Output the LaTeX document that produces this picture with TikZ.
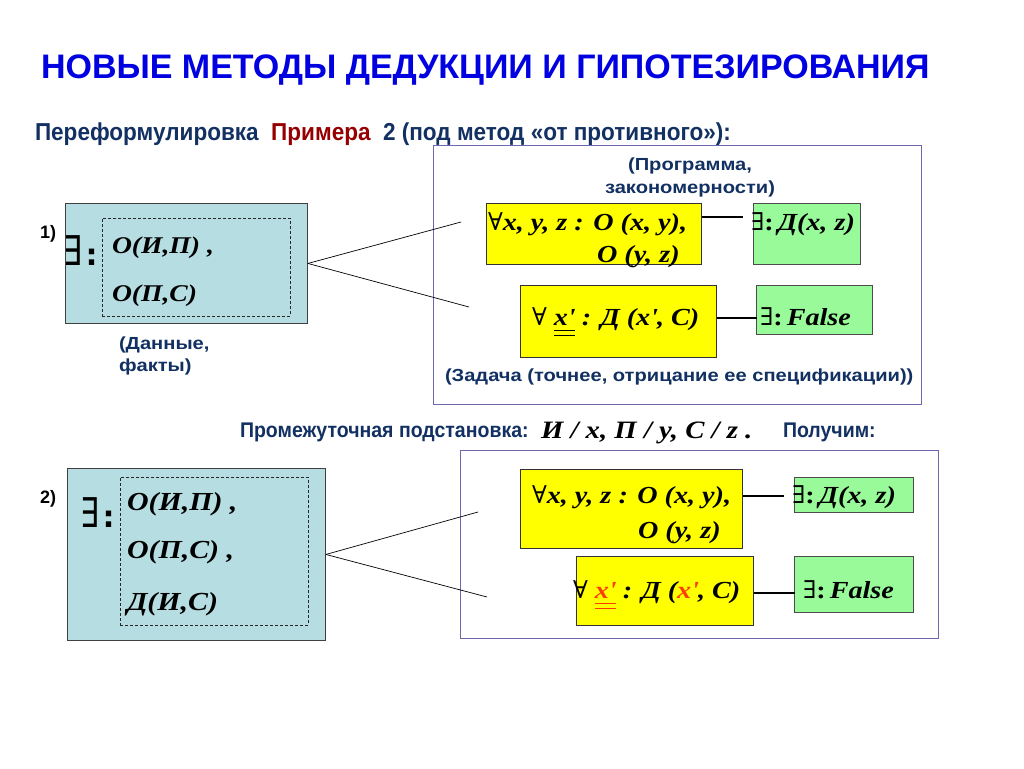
\documentclass[tikz,border=0pt]{standalone}
\usepackage{fontspec}
\setmainfont{Liberation Sans}
\newfontfamily\nar[FakeStretch=0.92]{Liberation Sans}
\newfontfamily\wsans[FakeStretch=1.15]{Liberation Sans}
\newfontfamily\tnr[FakeStretch=1.15]{Liberation Serif}
\newfontfamily\sym{DejaVu Sans}
\newfontfamily\symser{DejaVu Serif}
\definecolor{titleblue}{RGB}{0,0,225}
\definecolor{navy}{RGB}{18,48,98}
\definecolor{dred}{RGB}{150,0,0}
\definecolor{tealfill}{RGB}{182,222,226}
\definecolor{framec}{RGB}{110,105,175}
\definecolor{lgreen}{RGB}{152,250,152}
\definecolor{yel}{RGB}{255,255,0}
\definecolor{xred}{RGB}{255,60,0}
\newcommand{\fs}[1]{\fontsize{#1}{#1}\selectfont}
\newcommand{\fml}{\tnr\bfseries\itshape}
\newcommand{\pr}{\textquotesingle}
\newcommand{\bigE}{{\sym\fs{41}\scalebox{0.72}[1]{∃}}\kern4pt{\sym\bfseries\fs{30}:}}
\newcommand{\fa}{{\symser\mdseries\upshape ∀}}
\newcommand{\ex}{{\symser\mdseries\upshape ∃}{\upshape:}}
\newsavebox{\dulbox}
\newcommand{\dul}[2]{\sbox{\dulbox}{#2}\rlap{\textcolor{#1}{\raisebox{-6pt}{\rule{\wd\dulbox}{0.9pt}}}}\rlap{\textcolor{#1}{\raisebox{-11pt}{\rule{\wd\dulbox}{0.9pt}}}}\usebox{\dulbox}}
\tikzset{
  tealbox/.style={draw=black!75, fill=tealfill, line width=0.9pt, anchor=north west, inner sep=0pt},
  dashbox/.style={draw=black!85, dashed, dash pattern=on 3pt off 2pt, line width=0.7pt, anchor=north west, inner sep=0pt},
  framebox/.style={draw=framec, line width=1pt, anchor=north west, inner sep=0pt},
  ybox/.style={draw=black!80, fill=yel, line width=0.9pt, anchor=north west, inner sep=0pt},
  gbox/.style={draw=black!70, fill=lgreen, line width=0.9pt, anchor=north west, inner sep=0pt},
  conn/.style={draw=black, line width=0.7pt},
  linkline/.style={draw=black, line width=1.8pt},
  txt/.style={anchor=base west, inner sep=0pt, outer sep=0pt},
  lbl/.style={txt, text=navy, font=\wsans\bfseries\fs{17.5}},
  fm/.style={txt, font=\fml\fs{24.5}},
}
\begin{document}
\begin{tikzpicture}[x=1pt,y=-1pt]
\useasboundingbox[fill=white] (0,0) rectangle (1024,768);

% title
\node[txt, text=titleblue, font=\bfseries\fs{34}] (title) at (41,78) {НОВЫЕ МЕТОДЫ ДЕДУКЦИИ И ГИПОТЕЗИРОВАНИЯ};
\node[txt, text=navy, font=\nar\bfseries\fs{24.5}] (sub) at (35,140) {Переформулировка\ \ \textcolor{dred}{Примера}\ \ 2 (под метод «от противного»):};

% ===== part 1 =====
\node[tealbox, minimum width=242pt, minimum height=120pt] (B1) at (65,203) {};
\node[dashbox, minimum width=188pt, minimum height=98pt] (D1) at (102,218) {};
\node[txt, font=\bfseries\fs{18}] (n1) at (40,238) {1)};
\node[txt] (E1) at (63,265) {\bigE};
\node[txt, font=\fml\fs{24}] (t11) at (112,253) {О(И,П) ,};
\node[txt, font=\fml\fs{24}] (t12) at (112,301) {О(П,С)};
\node[lbl] (dan1) at (119,349) {(Данные,};
\node[lbl] (dan2) at (119,371) {факты)};

\node[framebox, minimum width=488pt, minimum height=259pt] (F1) at (433,145) {};
\node[lbl, anchor=base] (pr1) at (690,170) {(Программа,};
\node[lbl, anchor=base] (pr2) at (690,193) {закономерности)};

\node[ybox, minimum width=215pt, minimum height=61pt] (Y1) at (486,203) {};
\node[gbox, minimum width=107pt, minimum height=61pt] (G1) at (753,203) {};
\node[fm] (y1a) at (488,230) {\fa x, y, z : О (x, y),};
\node[fm] (y1b) at (597,262) {О (y, z)};
\node[fm] (g1t) at (751,230) {\ex\,Д(x, z)};

\node[ybox, minimum width=196pt, minimum height=72pt] (Y2) at (520,285) {};
\node[gbox, minimum width=116pt, minimum height=49pt] (G2) at (756,285) {};
\node[fm] (y2t) at (532,325) {\fa\ \dul{black}{x\pr} : Д (x\pr, C)};
\node[fm] (g2t) at (760,325) {\ex\,False};
\node[lbl] (zad) at (445,381) {(Задача (точнее, отрицание ее спецификации))};

\coordinate (c1a) at (461,222);
\coordinate (c1b) at (469,307);
\draw[conn] (B1.east) -- (c1a);
\draw[conn] (B1.east) -- (c1b);
\draw[linkline] ([yshift=-14pt]Y1.north east) -- ++(41,0);
\draw[linkline] ([yshift=-33pt]Y2.north east) -- ++(40,0);

% substitution line
\node[txt, text=navy, font=\nar\bfseries\fs{21.2}] (sub2) at (240,437) {Промежуточная подстановка:};
\node[txt, font=\fml\fs{25}] (subst) at (541,438) {И / x, П / y, С / z .};
\node[txt, text=navy, font=\nar\bfseries\fs{21.2}] (pol) at (783,437) {Получим:};

% ===== part 2 =====
\node[tealbox, minimum width=258pt, minimum height=172pt] (B2) at (67,468) {};
\node[dashbox, minimum width=188pt, minimum height=148pt] (D2) at (120,477) {};
\node[txt, font=\bfseries\fs{18}] (n2) at (40,503) {2)};
\node[txt] (E2) at (80,527) {\bigE};
\node[txt, font=\fml\fs{26}] (t21) at (127,510) {О(И,П) ,};
\node[txt, font=\fml\fs{26}] (t22) at (127,558) {О(П,С) ,};
\node[txt, font=\fml\fs{26}] (t23) at (127,610) {Д(И,С)};

\node[framebox, minimum width=478pt, minimum height=188pt] (F2) at (460,450) {};

\node[ybox, minimum width=222pt, minimum height=79pt] (Y3) at (520,469) {};
\node[gbox, minimum width=119pt, minimum height=35pt] (G3) at (794,477) {};
\node[fm] (y3a) at (532,503) {\fa x, y, z : О (x, y),};
\node[fm] (y3b) at (638,538) {О (y, z)};
\node[fm] (g3t) at (792,503) {\ex\,Д(x, z)};

\node[ybox, minimum width=177pt, minimum height=69pt] (Y4) at (576,556) {};
\node[gbox, minimum width=119pt, minimum height=56pt] (G4) at (794,556) {};
\node[fm] (y4t) at (573,598) {\fa\ \dul{xred}{\textcolor{xred}{x\pr}} : Д (\textcolor{xred}{x\pr}, C)};
\node[fm] (g4t) at (803,598) {\ex\,False};

\coordinate (c2a) at (478,512);
\coordinate (c2b) at (487,597);
\draw[conn] (B2.east) -- (c2a);
\draw[conn] (B2.east) -- (c2b);
\draw[linkline] ([yshift=-27pt]Y3.north east) -- ++(41,0);
\draw[linkline] ([yshift=-37pt]Y4.north east) -- ++(41,0);
\end{tikzpicture}
\end{document}
